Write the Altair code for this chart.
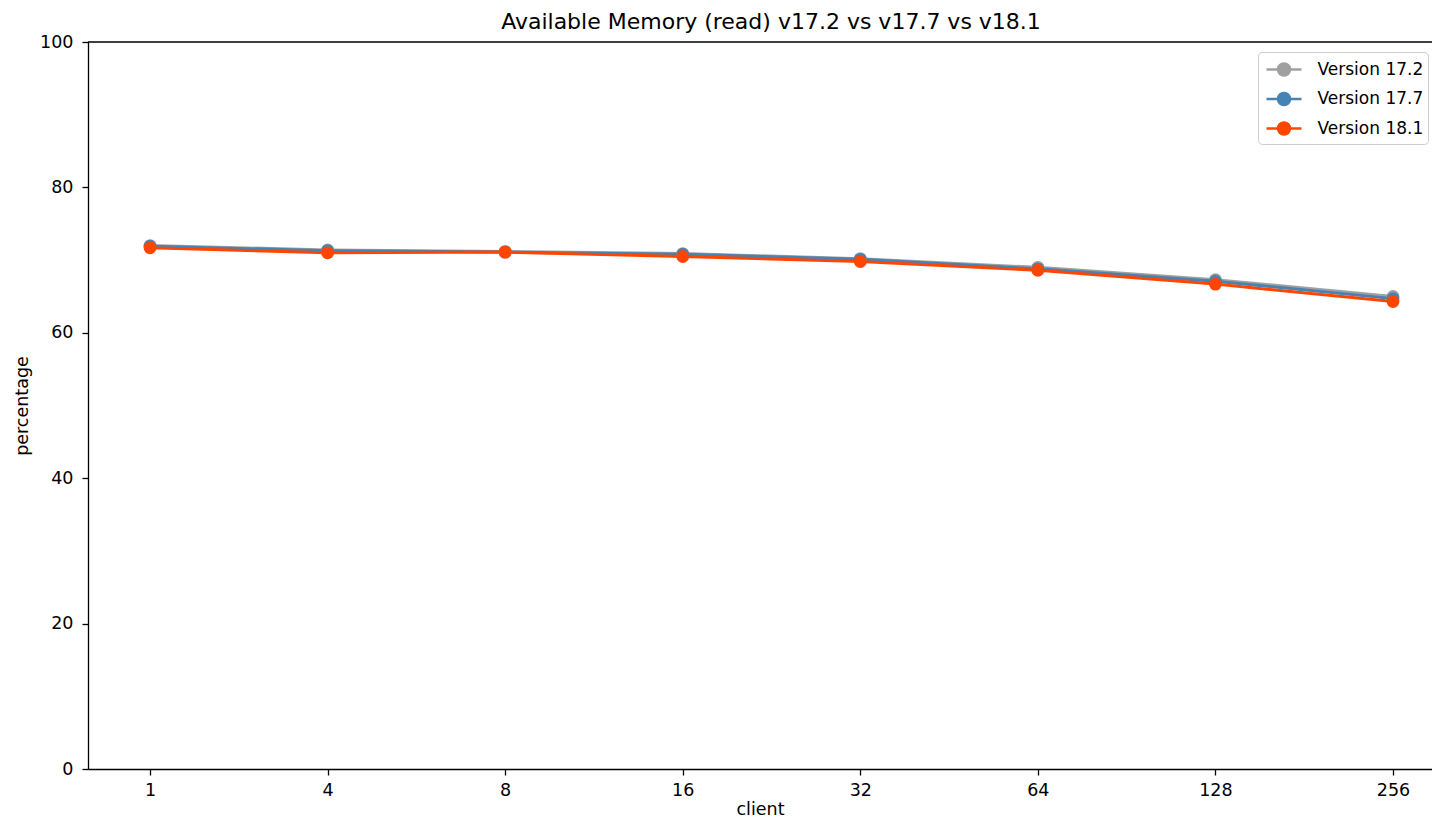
import altair as alt
import pandas as pd

clients = ["1", "4", "8", "16", "32", "64", "128", "256"]
versions = ["Version 17.2", "Version 17.7", "Version 18.1"]
colors = ["#a0a0a0", "#4682b4", "#ff4500"]

v172 = [72.0, 71.4, 71.2, 70.9, 70.2, 69.0, 67.3, 65.0]
v177 = [71.9, 71.3, 71.1, 70.8, 70.1, 68.8, 67.1, 64.7]
v181 = [71.7, 71.0, 71.1, 70.5, 69.8, 68.6, 66.7, 64.3]

rows = []
for name, vals in zip(versions, [v172, v177, v181]):
    for c, v in zip(clients, vals):
        rows.append({"client": c, "percentage": v, "version": name})
df = pd.DataFrame(rows)

W, H = 1344, 727
FONT = "DejaVu Sans"
FS = 17.5

x = alt.X("client:N", sort=clients, title="client",
          scale=alt.Scale(type="point", padding=0.2845, align=0.614),
          axis=alt.Axis(labelAngle=0, labelPadding=6, titlePadding=2))
y = alt.Y("percentage:Q", title="percentage",
          scale=alt.Scale(domain=[0, 100], nice=False, zero=True),
          axis=alt.Axis(values=[0, 20, 40, 60, 80, 100], grid=False,
                        labelPadding=9, titlePadding=8))

leg = alt.Legend(
    title=None, orient="none", legendX=1170, legendY=10,
    symbolType="M-1.458,0H1.458M-0.5,0A0.5,0.5 0 1,1 0.5,0A0.5,0.5 0 1,1 -0.5,0Z",
    symbolSize=576, symbolStrokeWidth=2.5, symbolOffset=8.5, labelOffset=20,
    labelFontSize=17, labelFont=FONT, labelColor="#000000",
    padding=4, fillColor="white", strokeColor="#cccccc", cornerRadius=4,
    rowPadding=4.5, labelLimit=300,
)
sc = alt.Scale(domain=versions, range=colors)

lines = alt.Chart(df).mark_line(strokeWidth=3).encode(
    x=x, y=y,
    stroke=alt.Stroke("version:N", scale=sc, legend=leg),
    detail="version:N",
)
points = alt.Chart(df).mark_point(filled=True, size=165, opacity=1, strokeWidth=0).encode(
    x=x, y=y,
    fill=alt.Fill("version:N", scale=sc, legend=leg),
    stroke=alt.Stroke("version:N", scale=sc, legend=leg),
    order=alt.Order("version:N"),
)
top = alt.Chart(pd.DataFrame({"v": [100]})).mark_rule(color="#000000", strokeWidth=1.3).encode(
    y=alt.Y("v:Q", scale=alt.Scale(domain=[0, 100])),
    x=alt.value(0), x2=alt.value(W),
)

chart = alt.layer(lines, points, top).resolve_scale(
    stroke="shared", fill="shared"
).properties(
    width=W, height=H,
    autosize=alt.AutoSizeParams(type="none"),
    padding={"left": 80, "top": 34, "right": 0, "bottom": 50},
    title=alt.TitleParams("Available Memory (read) v17.2 vs v17.7 vs v18.1",
                          fontSize=22, font=FONT, fontWeight="normal",
                          color="#000000", anchor="middle", offset=-1, dx=11),
).configure_view(stroke=None).configure_axis(
    labelFont=FONT, titleFont=FONT, labelFontSize=FS, titleFontSize=FS,
    labelColor="#000000", titleColor="#000000", titleFontWeight="normal",
    domainColor="#000000", tickColor="#000000", domainWidth=1.3, tickWidth=1.3,
    tickSize=6,
)

chart.save("out.html", embed_options={"renderer": "svg", "actions": False})
